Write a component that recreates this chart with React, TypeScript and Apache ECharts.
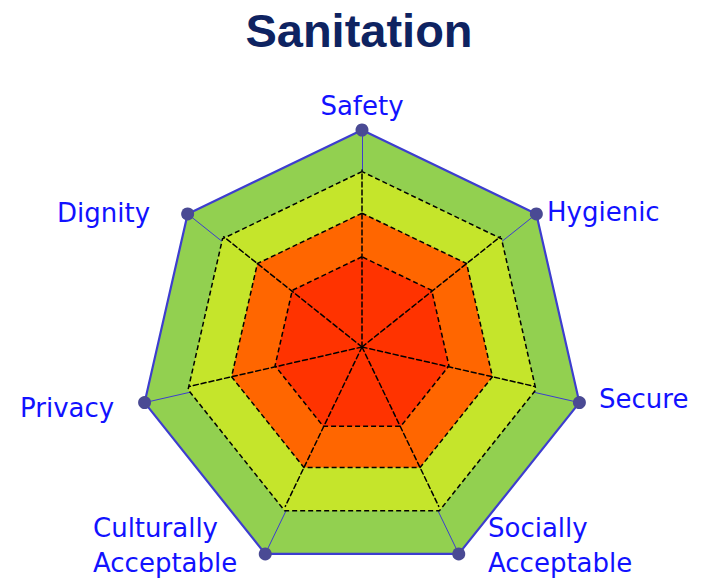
import React, { useEffect, useRef } from "react";
import * as echarts from "echarts";

const TITLE = "Sanitation";
// indicators in clockwise order starting at the top
const indicatorNames = [
  "Safety",
  "Hygienic",
  "Secure",
  "Socially\nAcceptable",
  "Culturally\nAcceptable",
  "Privacy",
  "Dignity",
];
const scaleMax = 5; // outer ring value
const outlineValues = [5, 5, 5, 5, 5, 5, 5];
// coloured bands, outermost first: upper bound of each band
const bandBounds = [5, 4, 3, 2];
const bandColors = ["#92d050", "#c5e52b", "#ff6600", "#ff3300"];

// layout only (the source picture is slightly skewed: inner rings sit a bit higher)
const bandCenterY = [353, 350, 347, 346];
const spokeCenterY = 347;
const labelLayout: Record<string, { x: number; y: number }> = {
  Safety: { x: 362, y: 106 },
  Hygienic: { x: 547, y: 212 },
  Secure: { x: 599, y: 399 },
  "Socially\nAcceptable": { x: 488, y: 545 },
  "Culturally\nAcceptable": { x: 93, y: 545 },
  Privacy: { x: 20, y: 408 },
  Dignity: { x: 57, y: 213 },
};

export default function App() {
  const ref = useRef<HTMLDivElement>(null);
  useEffect(() => {
    document.body.style.margin = "0";
    const chart = echarts.init(ref.current!, null, { renderer: "svg" });
    const cx = 362;
    const R = 223;
    // ECharts lays indicators out anticlockwise, so reverse all but the first
    const ccw = [indicatorNames[0], ...indicatorNames.slice(1).reverse()];
    const ccwValues = [outlineValues[0], ...outlineValues.slice(1).reverse()];
    const hidden = { show: false };
    const dash = { color: "#000000", width: 1.5, type: [5, 3] };

    const baseRadar = (cy: number, radius: number, max: number, z: number) => ({
      z,
      center: [cx, cy],
      radius,
      startAngle: 90,
      shape: "polygon",
      splitNumber: 1,
      indicator: ccw.map((n) => ({ name: n, max, min: 0 })),
      axisName: hidden,
      axisLine: hidden,
      splitLine: hidden,
      splitArea: hidden,
      axisTick: hidden,
      axisLabel: hidden,
    });

    const bandRadars = bandBounds.map((b, i) => ({
      ...baseRadar(bandCenterY[i], (R * b) / scaleMax, b, i),
      axisLine:
        i === 0
          ? { show: true, lineStyle: { color: "#3d3dcf", width: 1, type: "solid" } }
          : hidden,
      splitArea: { show: true, areaStyle: { color: [bandColors[i]], opacity: 1 } },
    }));

    const spokeMax = bandBounds[1];
    const spokeRadar = {
      ...baseRadar(spokeCenterY, (R * spokeMax) / scaleMax - 1.5, spokeMax, 6),
      axisLine: { show: true, lineStyle: dash },
    };

    const ringRadars = bandBounds.slice(1).map((b, j) => ({
      ...baseRadar(bandCenterY[j + 1], (R * b) / scaleMax, b, 6),
      splitLine: { show: true, lineStyle: dash },
    }));

    chart.setOption({
      animation: false,
      backgroundColor: "#ffffff",
      title: {
        text: TITLE,
        left: 354,
        textAlign: "center",
        top: 2,
        textStyle: {
          fontFamily: "Liberation Sans",
          fontWeight: "bold",
          fontSize: 47,
          color: "#0e2361",
        },
      },
      radar: [...bandRadars, spokeRadar, ...ringRadars],
      graphic: indicatorNames.map((n) => ({
        type: "text",
        x: labelLayout[n].x,
        y: labelLayout[n].y,
        z: 20,
        style: {
          text: n,
          fill: "#1212ff",
          font: "26px 'DejaVu Sans'",
          lineHeight: 35,
          textAlign: n === "Safety" ? "center" : "left",
          textVerticalAlign: "middle",
        },
      })),
      series: [
        {
          type: "radar",
          radarIndex: 0,
          symbol: "circle",
          symbolSize: 13,
          z: 10,
          lineStyle: { color: "#3d3dcf", width: 2.2 },
          itemStyle: { color: "#4a4a94" },
          areaStyle: { opacity: 0 },
          data: [{ value: ccwValues, name: TITLE }],
        },
      ],
    });
    return () => chart.dispose();
  }, []);
  return <div ref={ref} style={{ width: 703, height: 580 }} />;
}
